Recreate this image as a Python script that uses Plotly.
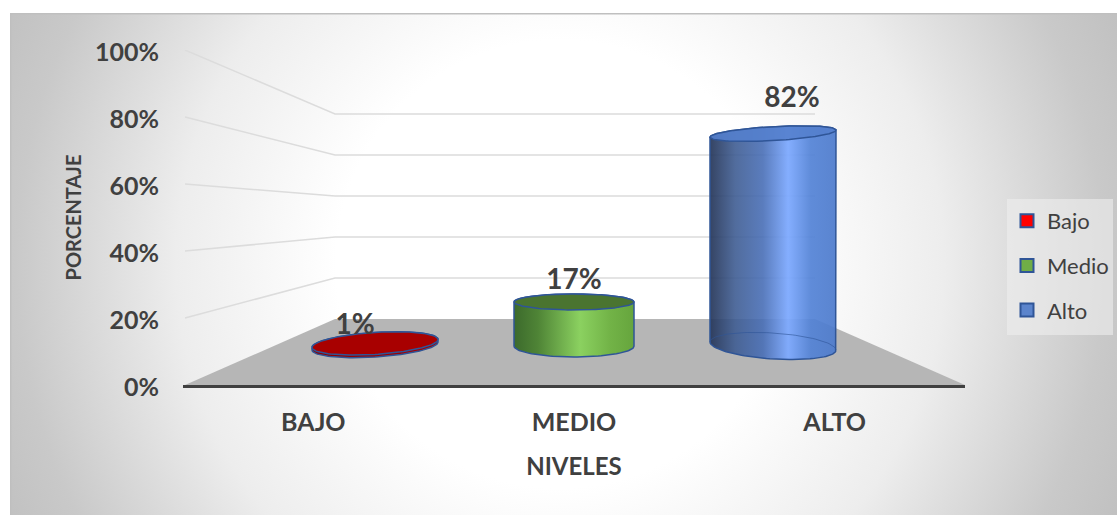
import numpy as np
import plotly.graph_objects as go

# ---- data ----
categories = ["BAJO", "MEDIO", "ALTO"]
series_names = ["Bajo", "Medio", "Alto"]
values = [1, 17, 82]
value_labels = ["1%", "17%", "82%"]
y_ticks = [0, 20, 40, 60, 80, 100]
y_tick_labels = ["0%", "20%", "40%", "60%", "80%", "100%"]

# ---- canvas / projection of the fake 3D box (pixels) ----
W, H = 1117, 515
FRONT_L, FRONT_R, FRONT_Y, TOP_Y = 183, 965, 385, 50
BACK_L, BACK_R, BACK_Y = 335, 815, 319
BACK_PX_PER_UNIT = 2.05
CYL_BASE = 346
CYL_PX_PER_UNIT = 2.59
FLOOR_L = 185
XUNIT = (FRONT_R - FRONT_L) / 3
YUNIT = (FRONT_Y - TOP_Y) / 100
PANEL_L, PANEL_T = 10, 13
GRAD_CX, GRAD_CY, GRAD_R = 560, 264, 640
LEG_L, LEG_R, LEG_T, LEG_B = 1007, 1113, 199, 335


def dx(px):
    return (np.asarray(px, dtype=float) - FRONT_L) / XUNIT - 0.5


def dy(py):
    return (FRONT_Y - np.asarray(py, dtype=float)) / YUNIT


fig = go.Figure()

# background panel: a square much larger than the clip area gives a circular gradient
gx = [GRAD_CX - GRAD_R, GRAD_CX + GRAD_R, GRAD_CX + GRAD_R, GRAD_CX - GRAD_R, GRAD_CX - GRAD_R]
gy = [GRAD_CY - GRAD_R, GRAD_CY - GRAD_R, GRAD_CY + GRAD_R, GRAD_CY + GRAD_R, GRAD_CY - GRAD_R]
fig.add_trace(go.Scatter(
    x=gx, y=gy, mode="lines", line=dict(width=0),
    fill="toself", showlegend=False, hoverinfo="skip", xaxis="x", yaxis="y",
    fillgradient=dict(type="radial",
                      colorscale=[[0, "#ffffff"], [0.35, "#ffffff"], [0.6, "#ededed"], [0.85, "#c9c9c9"], [1, "#bdbdbd"]]),
))
fig.add_trace(go.Scatter(x=[PANEL_L, PANEL_L, W], y=[H, PANEL_T, PANEL_T], mode="lines",
                         line=dict(color="#bfbfbf", width=3), showlegend=False,
                         hoverinfo="skip", xaxis="x", yaxis="y"))
# legend backdrop
fig.add_trace(go.Scatter(
    x=[LEG_L, LEG_R, LEG_R, LEG_L, LEG_L], y=[LEG_T, LEG_T, LEG_B, LEG_B, LEG_T],
    mode="lines", line=dict(width=0), fill="toself", fillcolor="rgba(238,238,238,0.6)",
    showlegend=False, hoverinfo="skip", xaxis="x", yaxis="y"))

# floor
fig.add_trace(go.Scatter(
    x=dx([FLOOR_L, FRONT_R, BACK_R, BACK_L, FLOOR_L]),
    y=dy([FRONT_Y, FRONT_Y, BACK_Y, BACK_Y, FRONT_Y]),
    mode="lines", line=dict(width=0), fill="toself", fillcolor="#b6b6b6",
    showlegend=False, hoverinfo="skip", xaxis="x2", yaxis="y2"))

# walls' gridlines, taken from the tick values
for t in y_ticks[1:]:
    front = FRONT_Y - t * YUNIT
    back = BACK_Y - t * BACK_PX_PER_UNIT
    fig.add_trace(go.Scatter(
        x=dx([FLOOR_L, BACK_L, BACK_R]), y=dy([front, back, back]),
        mode="lines", line=dict(color="#dcdcdc", width=1.5),
        showlegend=False, hoverinfo="skip", xaxis="x2", yaxis="y2"))

# cylinder styling
centers = [375, 574, 773]
radii = [63, 60, 63]
ry_top = [11, 8, 7]
ry_bot = [11, 11, 13]
tilt_top = [4, 0, 3.5]
tilt_bot = [4, 0, -4]
body_scales = [
    [[0, "#8c0000"], [1, "#a80000"]],
    [[0, "#3c6a2c"], [0.2, "#4f8436"], [0.55, "#8bd160"], [0.8, "#72b347"], [1, "#66a53d"]],
    [[0, "rgba(38,54,88,0.93)"], [0.2, "rgba(62,92,146,0.9)"], [0.42, "rgba(72,110,182,0.9)"],
     [0.62, "rgba(126,170,255,0.95)"], [0.8, "rgba(82,130,214,0.92)"], [1, "rgba(76,122,204,0.92)"]],
]
top_fill = ["#a80000", "#4a7430", "rgba(84,128,205,0.9)"]
edge = "#2f5597"
theta = np.linspace(0, 2 * np.pi, 121)


def ellipse_pts(cx, cy, rx, ry, tilt, t):
    return cx + rx * np.cos(t), cy - tilt * np.cos(t) + ry * np.sin(t)


for i, v in enumerate(values):
    cx, rx = centers[i], radii[i]
    top_y = CYL_BASE - v * CYL_PX_PER_UNIT
    tx, ty = ellipse_pts(cx, top_y, rx, ry_top[i], tilt_top[i], np.linspace(np.pi, 2 * np.pi, 61))
    bx, by = ellipse_pts(cx, CYL_BASE, rx, ry_bot[i], tilt_bot[i], np.linspace(0, np.pi, 61))
    px = np.concatenate([tx, bx, tx[:1]])
    py = np.concatenate([ty, by, ty[:1]])
    fig.add_trace(go.Scatter(
        x=dx(px), y=dy(py), mode="lines", line=dict(color=edge, width=1.5),
        fill="toself", fillgradient=dict(type="horizontal", colorscale=body_scales[i]),
        showlegend=False, hoverinfo="skip", xaxis="x2", yaxis="y2"))
    if i == 2:
        ex, ey = ellipse_pts(cx, CYL_BASE, rx, ry_bot[i], tilt_bot[i], np.linspace(np.pi, 2 * np.pi, 61))
        fig.add_trace(go.Scatter(
            x=dx(ex), y=dy(ey), mode="lines", line=dict(color="rgba(47,85,151,0.6)", width=1),
            showlegend=False, hoverinfo="skip", xaxis="x2", yaxis="y2"))
    ex, ey = ellipse_pts(cx, top_y, rx, ry_top[i], tilt_top[i], theta)
    fig.add_trace(go.Scatter(
        x=dx(ex), y=dy(ey), mode="lines", line=dict(color=edge, width=1.5),
        fill="toself", fillcolor=top_fill[i],
        showlegend=False, hoverinfo="skip", xaxis="x2", yaxis="y2"))

# data labels
label_dx = [-20, 0, 19]
label_dy = [-16, -20, -34]
fig.add_trace(go.Scatter(
    x=dx([c + o for c, o in zip(centers, label_dx)]),
    y=dy([CYL_BASE - v * CYL_PX_PER_UNIT + o for v, o in zip(values, label_dy)]),
    mode="text", text=["<b>%s</b>" % s for s in value_labels], textposition="middle center",
    textfont=dict(family="Lato", size=28, color="#404040"),
    cliponaxis=False, showlegend=False, hoverinfo="skip", xaxis="x2", yaxis="y2"))

# legend entries
legend_colors = ["#ff0000", "#70ad47", "#5b84cc"]
for name, c in zip(series_names, legend_colors):
    fig.add_trace(go.Scatter(
        x=[None], y=[None], mode="markers", name=name, legendgroup=name,
        marker=dict(symbol="square", size=13, color=c, line=dict(color=edge, width=2)),
        xaxis="x2", yaxis="y2"))

fig.update_layout(
    width=W, height=H, margin=dict(l=0, r=0, t=0, b=0, pad=0, autoexpand=False),
    paper_bgcolor="#ffffff", plot_bgcolor="rgba(0,0,0,0)",
    font=dict(family="Lato", color="#404040"),
    xaxis=dict(domain=[PANEL_L / W, 1], range=[PANEL_L, W], visible=False, fixedrange=True),
    yaxis=dict(domain=[0, (H - PANEL_T) / H], range=[H, PANEL_T], visible=False, fixedrange=True),
    xaxis2=dict(
        domain=[FRONT_L / W, FRONT_R / W], range=[-0.5, 2.5], anchor="y2",
        tickmode="array", tickvals=[0, 1, 2], ticktext=["<b>%s</b>" % c for c in categories],
        tickfont=dict(family="Lato", size=25, color="#404040"),
        ticks="outside", ticklen=13, tickcolor="rgba(0,0,0,0)", showgrid=False, zeroline=False,
        showline=True, linecolor="#404040", linewidth=3, automargin=False,
        title=dict(text="<b>NIVELES</b>", font=dict(family="Lato", size=24, color="#404040"), standoff=24),
    ),
    yaxis2=dict(
        domain=[(H - FRONT_Y) / H, (H - TOP_Y) / H], range=[0, 100], anchor="x2",
        tickmode="array", tickvals=y_ticks, ticktext=["<b>%s</b>" % s for s in y_tick_labels],
        tickfont=dict(family="Lato", size=25, color="#404040"),
        ticks="outside", ticklen=18, tickcolor="rgba(0,0,0,0)", showgrid=False, zeroline=False,
        ticklabelshift=2,
        showline=False, automargin=False,
        title=dict(text="<b>PORCENTAJE</b>", font=dict(family="Lato", size=20, color="#404040"), standoff=8),
    ),
    legend=dict(
        x=LEG_L / W, y=(H - 200) / H, xanchor="left", yanchor="top",
        bgcolor="rgba(0,0,0,0)", borderwidth=0, tracegroupgap=13,
        font=dict(family="Lato", size=22, color="#404040"), itemwidth=30,
    ),
)

fig.write_html("out.html", config={"displayModeBar": False},
               post_script="document.body.style.margin='0';")
